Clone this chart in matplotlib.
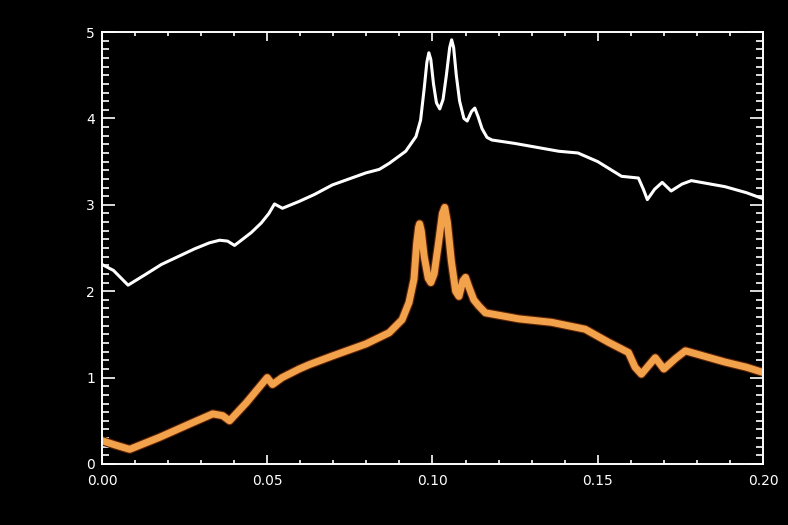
"""Two spectra on a black IDL-style plot: white (upper) and orange (lower)."""
import matplotlib
matplotlib.use("Agg")
import matplotlib.pyplot as plt
from matplotlib.ticker import MultipleLocator, FormatStrFormatter

# upper (white) curve
white_x = [0.0, 0.0035, 0.0079, 0.013, 0.018, 0.023, 0.028, 0.0325, 0.0356,
           0.038, 0.0401, 0.0425, 0.0452, 0.0482, 0.0505, 0.0522, 0.0546,
           0.0597, 0.0643, 0.0697, 0.0799, 0.0839, 0.0869, 0.0919, 0.095,
           0.0964, 0.0975, 0.0983, 0.0989, 0.0995, 0.1003, 0.1012, 0.1022,
           0.1032, 0.1042, 0.1052, 0.1058, 0.1064, 0.1072, 0.1082, 0.1095,
           0.1105, 0.1118, 0.1128, 0.1138, 0.115, 0.1165, 0.118, 0.125,
           0.1382, 0.144, 0.150, 0.1572, 0.1623, 0.1638, 0.165, 0.1672,
           0.1695, 0.1722, 0.1755, 0.1783, 0.1885, 0.195, 0.2]
white_y = [2.31, 2.24, 2.07, 2.19, 2.31, 2.40, 2.49, 2.56, 2.59,
           2.58, 2.53, 2.60, 2.68, 2.79, 2.90, 3.01, 2.96,
           3.04, 3.12, 3.23, 3.37, 3.41, 3.48, 3.62, 3.79,
           3.98, 4.35, 4.65, 4.76, 4.68, 4.40, 4.18, 4.11,
           4.22, 4.50, 4.82, 4.91, 4.82, 4.50, 4.20, 4.00,
           3.97, 4.08, 4.12, 4.02, 3.88, 3.78, 3.75, 3.71,
           3.62, 3.60, 3.50, 3.33, 3.31, 3.18, 3.06, 3.18,
           3.26, 3.16, 3.24, 3.28, 3.21, 3.14, 3.07]

# lower (orange) curve
orange_x = [0.0, 0.004, 0.0084, 0.0175, 0.0275, 0.0335, 0.0365, 0.0386,
            0.0437, 0.050, 0.0516, 0.0545, 0.0597, 0.0627, 0.0697, 0.0799,
            0.0869, 0.0908, 0.0929, 0.0944, 0.0952, 0.0958, 0.0961, 0.0966,
            0.0975, 0.0987, 0.0995, 0.1005, 0.1018, 0.103, 0.1037, 0.1045,
            0.1057, 0.107, 0.108, 0.1092, 0.110, 0.111, 0.1125, 0.114, 0.116,
            0.1261, 0.136, 0.1462, 0.1532, 0.1593, 0.1613, 0.1632, 0.1674,
            0.170, 0.1735, 0.1765, 0.1885, 0.195, 0.2]
orange_y = [0.27, 0.22, 0.17, 0.31, 0.48, 0.58, 0.56, 0.50,
            0.71, 1.00, 0.92, 1.00, 1.10, 1.15, 1.25, 1.39,
            1.52, 1.67, 1.87, 2.14, 2.55, 2.74, 2.78, 2.70,
            2.40, 2.15, 2.10, 2.20, 2.55, 2.90, 2.97, 2.80,
            2.35, 2.00, 1.94, 2.12, 2.16, 2.05, 1.90, 1.83, 1.75,
            1.68, 1.64, 1.56, 1.41, 1.29, 1.12, 1.04, 1.23,
            1.10, 1.22, 1.31, 1.18, 1.12, 1.06]

ORANGE = "#f2a24a"


def main():
    fig = plt.figure(figsize=(7.88, 5.25), dpi=100, facecolor="black")
    ax = fig.add_axes([0.1294, 0.1162, 0.9683 - 0.1294, 0.939 - 0.1162])
    ax.set_facecolor("black")

    ax.plot(orange_x, orange_y, color="#5a2208", lw=6.6, solid_joinstyle="round")
    ax.plot(orange_x, orange_y, color=ORANGE, lw=5.0, solid_joinstyle="round")
    ax.plot(white_x, white_y, color="white", lw=2.2, solid_joinstyle="round")

    ax.set_xlim(0, 0.2)
    ax.set_ylim(0, 5)
    ax.xaxis.set_major_locator(MultipleLocator(0.05))
    ax.xaxis.set_minor_locator(MultipleLocator(0.01))
    ax.xaxis.set_major_formatter(FormatStrFormatter("%.2f"))
    ax.yaxis.set_major_locator(MultipleLocator(1))
    ax.yaxis.set_minor_locator(MultipleLocator(0.1))

    for s in ax.spines.values():
        s.set_color("white")
        s.set_linewidth(1.4)
    ax.tick_params(which="both", direction="in", top=True, right=True,
                   colors="white", width=1.2, labelsize=10)
    ax.tick_params(axis="x", which="major", length=6.5, pad=7)
    ax.tick_params(axis="x", which="minor", length=3.2)
    ax.tick_params(axis="y", which="major", length=9.4, pad=5)
    ax.tick_params(axis="y", which="minor", length=5)
    # IDL puts the y labels a touch above their ticks
    for lab in ax.get_yticklabels():
        lab.set_verticalalignment("center_baseline")

    fig.savefig("out.png", dpi=100, facecolor="black")


if __name__ == "__main__":
    main()
